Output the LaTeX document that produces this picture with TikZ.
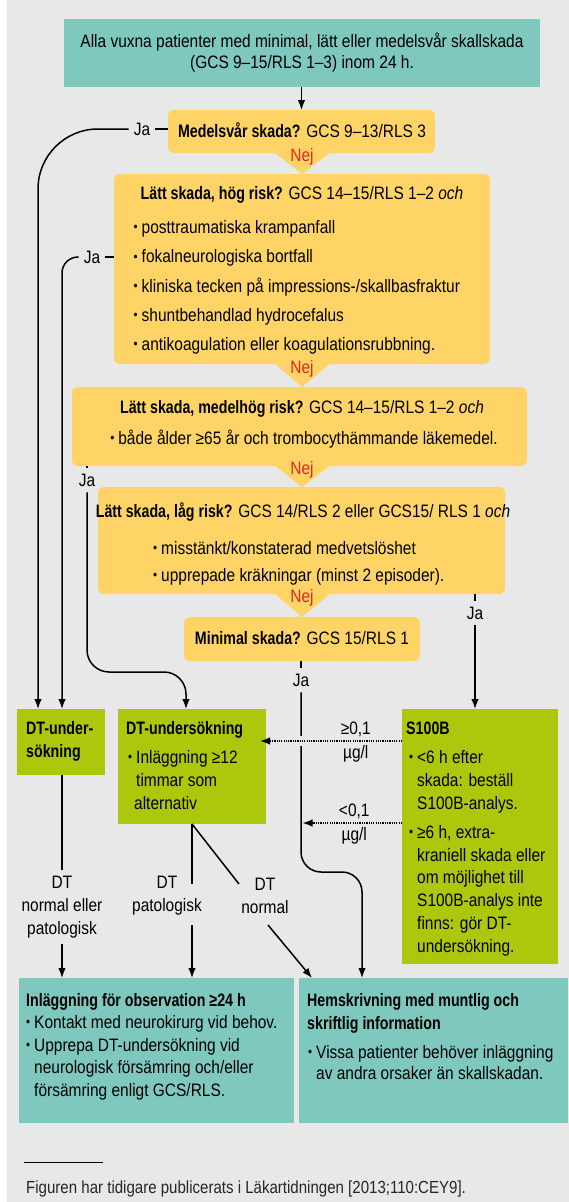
\documentclass[tikz,border=0pt]{standalone}
\usepackage{fontspec}
\setmainfont{Liberation Sans}[FakeStretch=0.86]
\newfontfamily\boldfam{Liberation Sans}[FakeStretch=0.79]
\usetikzlibrary{arrows.meta,calc}
\definecolor{cBg}{HTML}{E8E8E8}
\definecolor{cTeal}{HTML}{7FC8BE}
\definecolor{cYel}{HTML}{FFD466}
\definecolor{cGrn}{HTML}{ADC80C}
\definecolor{cRed}{HTML}{E3261C}
\newcommand{\mfont}{\fontsize{18}{21}\selectfont}
\newcommand{\bt}[1]{{\boldfam\bfseries #1}}
\newcommand{\bul}{\makebox[8pt][l]{\raisebox{1.5pt}{\scalebox{0.75}{•}}}}
\begin{document}
\begin{tikzpicture}[x=1pt,y=-1pt,
  box/.style={draw=none, inner sep=0pt, outer sep=0pt, anchor=north west},
  ybox/.style={box, fill=cYel, rounded corners=6pt},
  tbox/.style={box, fill=cTeal},
  gbox/.style={box, fill=cGrn},
  tx/.style={inner sep=0pt, anchor=base west, font=\mfont},
  ct/.style={inner sep=0pt, anchor=base, font=\mfont},
  nej/.style={ct, text=cRed},
  ja/.style={font=\mfont, inner xsep=5pt, inner ysep=6pt},
  ln/.style={line width=1.5pt, black},
  arr/.style={ln, -{Latex[length=10pt,width=7.5pt]}},
  dotarr/.style={line width=1.5pt, dash pattern=on 1.2pt off 1.1pt, -{Latex[length=10pt,width=7.5pt]}},
  lbl/.style={font=\fontsize{18}{23}\selectfont, align=center, inner sep=6pt},
]
\useasboundingbox (0,0) rectangle (569,1202);
\fill[cBg] (7,0) rectangle (569,1202);

% ---------- boxes ----------
\node[tbox, minimum width=476pt, minimum height=68pt] (top) at (64,19) {};
\node[ybox, minimum width=267pt, minimum height=43pt] (medel) at (168,110) {};
\node[ybox, minimum width=376pt, minimum height=190pt] (hog) at (114,174) {};
\node[ybox, minimum width=455pt, minimum height=79pt] (mhog) at (72,387) {};
\node[ybox, minimum width=407pt, minimum height=107pt] (lag) at (98,487) {};
\node[ybox, minimum width=236pt, minimum height=44pt] (mini) at (184,617) {};
\node[gbox, minimum width=88pt, minimum height=66pt] (dtu) at (17,709) {};
\node[gbox, minimum width=148pt, minimum height=115pt] (dtb) at (118,709) {};
\node[gbox, minimum width=156pt, minimum height=255pt] (s100) at (402,709) {};
\node[tbox, minimum width=275pt, minimum height=145pt] (inl) at (19,978) {};
\node[tbox, minimum width=269pt, minimum height=145pt] (hem) at (299,978) {};

% Nej pointers
\fill[cYel] (274,152) -- (331,152) -- (302,174) -- cycle;
\fill[cYel] (274,363) -- (331,363) -- (302,387) -- cycle;
\fill[cYel] (274,465) -- (331,465) -- (302,487) -- cycle;
\fill[cYel] (274,593) -- (331,593) -- (302,617) -- cycle;

% ---------- texts ----------
\node[ct] (t1) at (302,47.5) {Alla vuxna patienter med minimal, lätt eller medelsvår skallskada};
\node[ct] (t2) at (302,68.5) {(GCS 9–15/RLS 1–3) inom 24 h.};

\node[ct] (t3) at (302,137.5) {\bt{Medelsvår skada?} GCS 9–13/RLS 3};
\node[nej] (n1) at (302,161) {Nej};

\node[ct] (t4) at (302,199) {\bt{Lätt skada, hög risk?} GCS 14–15/RLS 1–2 \textit{och}};
\node[tx] (t5) at (133.5,233) {\bul posttraumatiska krampanfall};
\node[tx] (t6) at (133.5,262.5) {\bul fokalneurologiska bortfall};
\node[tx] (t7) at (133.5,292) {\bul kliniska tecken på impressions-/skallbasfraktur};
\node[tx] (t8) at (133.5,321) {\bul shuntbehandlad hydrocefalus};
\node[tx] (t9) at (133.5,350) {\bul antikoagulation eller koagulationsrubbning.};
\node[nej] (n2) at (302,373) {Nej};

\node[ct] (t10) at (302,413) {\bt{Lätt skada, medelhög risk?} GCS 14–15/RLS 1–2 \textit{och}};
\node[ct] (t11) at (304,444) {\bul både ålder ≥65 år och trombocythämmande läkemedel.};
\node[nej] (n3) at (302,474) {Nej};

\node[ct] (t12) at (303,517) {\bt{Lätt skada, låg risk?} GCS 14/RLS 2 eller GCS15/ RLS 1 \textit{och}};
\node[tx] (t13) at (153,554) {\bul misstänkt/konstaterad medvetslöshet};
\node[tx] (t14) at (153,581) {\bul upprepade kräkningar (minst 2 episoder).};
\node[nej] (n4) at (302,602) {Nej};

\node[ct] (t15) at (302,644) {\bt{Minimal skada?} GCS 15/RLS 1};

\node[tx] (t16) at (26,734) {\bt{DT-under-}};
\node[tx] (t17) at (26,757) {\bt{sökning}};

\node[tx] (t18) at (126,734) {\bt{DT-undersökning}};
\node[tx] (t19) at (128,763) {\bul Inläggning ≥12};
\node[tx] (t20) at (136,786) {timmar som};
\node[tx] (t21) at (134,809) {alternativ};

\node[tx] (t22) at (406,734) {\bt{S100B}};
\node[tx] (t23) at (409,763) {\bul <6 h efter};
\node[tx] (t24) at (417,786) {skada: beställ};
\node[tx] (t25) at (417,809) {S100B-analys.};
\node[tx] (t26) at (409,838) {\bul ≥6 h, extra-};
\node[tx] (t27) at (417,861) {kraniell skada eller};
\node[tx] (t28) at (417,883) {om möjlighet till};
\node[tx] (t29) at (417,906) {S100B-analys inte};
\node[tx] (t30) at (417,929) {finns: gör DT-};
\node[tx] (t31) at (417,952) {undersökning.};

\node[tx] (t32) at (26,1006) {\bt{Inläggning för observation ≥24 h}};
\node[tx] (t33) at (26,1028) {\bul Kontakt med neurokirurg vid behov.};
\node[tx] (t34) at (26,1051) {\bul Upprepa DT-undersökning vid};
\node[tx] (t35) at (34,1073) {neurologisk försämring och/eller};
\node[tx] (t36) at (34,1096) {försämring enligt GCS/RLS.};

\node[tx] (t37) at (307,1006) {\bt{Hemskrivning med muntlig och}};
\node[tx] (t38) at (307,1029) {\bt{skriftlig information}};
\node[tx] (t39) at (308,1058) {\bul Vissa patienter behöver inläggning};
\node[tx] (t40) at (316,1079) {av andra orsaker än skallskadan.};

% ---------- labels ----------
\node[ja] (ja1) at (142,129) {Ja};
\node[ja] (ja2) at (92,257) {Ja};
\node[ja] (ja3) at (87,480) {Ja};
\node[ja] (ja4) at (475,613) {Ja};
\node[ja] (ja5) at (301,680) {Ja};
\node[lbl] (la) at (62,907) {DT\\normal eller\\patologisk};
\node[lbl] (lb) at (167,896) {DT\\patologisk};
\node[lbl] (lc) at (265,896) {DT\\normal};

% ---------- coordinates ----------
\coordinate (e1) at ($(dtu.north west)+(21,0)$);
\coordinate (e2) at ($(dtu.north west)+(45,0)$);
\coordinate (j3m) at (186,672);
\coordinate (e3) at ($(dtb.north west)+(68,0)$);
\coordinate (j5a) at (301,872);
\coordinate (j5b) at (362,872);
\coordinate (e5) at ($(hem.north west)+(63,0)$);
\coordinate (b1) at (192,884);
\coordinate (b2) at (192,925);
\coordinate (c1) at (239,884);
\coordinate (c2) at (268,925);
\coordinate (e6) at ($(hem.north west)+(13,0)$);
\coordinate (d1) at ($(s100.north west)+(0,32)$);
\coordinate (d2) at ($(dtb.north east)+(0,32)$);
\coordinate (d3) at ($(s100.north west)+(0,114)$);
\coordinate (d4) at (302.5,823);

% ---------- connectors ----------
\draw[arr] (top.south -| medel.north) -- (medel.north);
\draw[ln] (medel.west |- ja1) -- (ja1.east);
\draw[arr, rounded corners=60pt] (ja1.west) -| (e1);
\draw[ln] (hog.west |- ja2) -- (ja2.east);
\draw[arr, rounded corners=16pt] (ja2.west) -| (e2);
\draw[ln] (mhog.south -| ja3) -- (ja3.north);
\draw[arr, rounded corners=22pt] (ja3.south) |- (j3m) -- (e3);
\draw[ln] (lag.south -| ja4) -- (ja4.north);
\draw[arr] (ja4.south) -- (s100.north -| ja4);
\draw[ln] (mini.south -| ja5) -- (ja5.north);
\draw[arr, rounded corners=20pt] (ja5.south) -- (j5a) -- (j5b) -- (e5);

\fill[cBg] (296,736) rectangle (306,746);
\draw[dotarr, shorten >=-6pt] (d1) -- node[pos=0.34, above, font=\mfont] (g1) {≥0,1} node[pos=0.34, below, font=\mfont] (g2) {µg/l} (d2);
\draw[dotarr] (d3) -- node[pos=0.48, above, font=\mfont] (g3) {<0,1} node[pos=0.48, below, font=\mfont] (g4) {µg/l} (d4);

\draw[ln] (dtu.south -| la) -- (la.north);
\draw[arr] (la.south) -- (inl.north -| la);
\draw[ln] (dtb.south) -- (b1);
\draw[arr] (b2) -- (inl.north -| b2);
\draw[ln] (dtb.south) -- (c1);
\draw[arr] (c2) -- (e6);

% ---------- footnote ----------
\draw[line width=0.7pt] (24,1162) -- (103,1162);
\node[tx, font=\fontsize{17.5}{20}\selectfont, text=black!85] (fn) at (26,1193.5) {Figuren har tidigare publicerats i Läkartidningen [2013;110:CEY9].};
\end{tikzpicture}
\end{document}
